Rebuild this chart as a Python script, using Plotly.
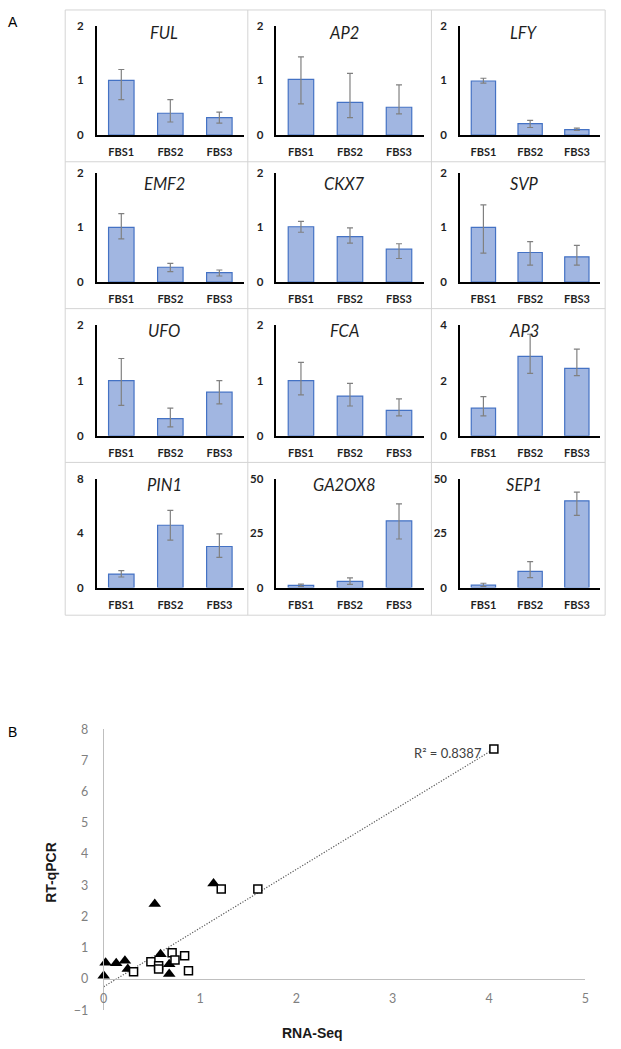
import plotly.graph_objects as go

W, H = 621, 1049

# ---------------- data: panel A ----------------
gene_names = ["FUL", "AP2", "LFY", "EMF2", "CKX7", "SVP",
              "UFO", "FCA", "AP3", "PIN1", "GA2OX8", "SEP1"]
samples = ["FBS1", "FBS2", "FBS3"]

bar_means = [
    [1.00, 0.40, 0.32],
    [1.02, 0.60, 0.51],
    [0.99, 0.21, 0.10],
    [1.00, 0.27, 0.17],
    [1.01, 0.83, 0.60],
    [1.00, 0.54, 0.46],
    [1.00, 0.31, 0.79],
    [1.00, 0.72, 0.46],
    [1.00, 2.88, 2.44],
    [1.00, 4.60, 3.03],
    [1.00, 2.90, 30.8],
    [1.10, 7.50, 40.0],
]
whisker_high = [
    [1.20, 0.65, 0.42],
    [1.43, 1.13, 0.92],
    [1.04, 0.27, 0.13],
    [1.25, 0.34, 0.22],
    [1.11, 0.99, 0.70],
    [1.41, 0.74, 0.67],
    [1.40, 0.50, 1.00],
    [1.33, 0.95, 0.67],
    [1.42, 3.68, 3.14],
    [1.25, 5.70, 3.97],
    [1.60, 4.50, 38.6],
    [2.00, 12.0, 44.0],
]
whisker_low = [
    [0.65, 0.24, 0.22],
    [0.57, 0.32, 0.39],
    [0.95, 0.14, 0.085],
    [0.79, 0.19, 0.11],
    [0.91, 0.71, 0.43],
    [0.53, 0.31, 0.31],
    [0.55, 0.16, 0.58],
    [0.74, 0.54, 0.36],
    [0.72, 2.26, 2.18],
    [0.78, 3.50, 2.23],
    [0.40, 1.50, 22.4],
    [0.40, 4.60, 33.3],
]
y_max = [2, 2, 2, 2, 2, 2, 2, 2, 4, 8, 50, 50]
y_dtick = [1, 1, 1, 1, 1, 1, 1, 1, 2, 4, 25, 25]

# ---------------- data: panel B ----------------
tri_x = [0.00, 0.02, 0.13, 0.22, 0.25, 0.53, 0.59, 0.68, 0.68, 1.14]
tri_y = [0.10, 0.52, 0.50, 0.58, 0.32, 2.40, 0.79, 0.47, 0.16, 3.06]
sq_x = [0.31, 0.49, 0.57, 0.57, 0.71, 0.74, 0.84, 0.88, 1.22, 1.60, 4.05]
sq_y = [0.23, 0.55, 0.42, 0.32, 0.84, 0.61, 0.74, 0.26, 2.88, 2.88, 7.37]
trend_slope = 1.88
trend_intercept = -0.25
r_squared_label = "R² = 0.8387"
x_title = "RNA-Seq"
y_title = "RT-qPCR"


def fx(p):
    return p / W


def fy(p):
    return 1 - p / H


BAR_FILL = "#a1b6e1"
BAR_EDGE = "#4472c4"
ERR_COL = "#808080"
TXT = "#1f1f1f"

row_tops = [2, 156, 305, 461]
grid_bottom = 616
col_lefts = [62, 247, 433]
grid_right = 609
axis_left = [94, 276, 462]
axis_right = [243, 425, 604]
top_off = [16, 11, 17, 17]
bot_off = [127, 122, 129, 127]

fig = go.Figure()
layout = {}
annotations = []
shapes = []

for i, g in enumerate(gene_names):
    r, c = divmod(i, 3)
    n = i + 1
    xa, ya = f"x{n}", f"y{n}"
    m = bar_means[i]
    hi = [h - v for h, v in zip(whisker_high[i], m)]
    lo = [v - l for l, v in zip(whisker_low[i], m)]
    fig.add_trace(go.Bar(
        x=samples, y=m, xaxis=xa, yaxis=ya, width=0.52,
        marker=dict(color=BAR_FILL, line=dict(color=BAR_EDGE, width=1.2)),
        error_y=dict(type="data", symmetric=False, array=hi, arrayminus=lo,
                     color=ERR_COL, thickness=1.2, width=3),
        showlegend=False, hoverinfo="skip"))
    layout[f"xaxis{n}"] = dict(
        domain=[fx(axis_left[c]), fx(axis_right[c])], anchor=ya,
        range=[-0.5, 2.5], showline=True, linecolor="black", linewidth=1.5,
        ticks="", showgrid=False, zeroline=False, ticklabelstandoff=6,
        tickfont=dict(family="Lato", size=11, color=TXT, weight="bold"))
    layout[f"yaxis{n}"] = dict(
        domain=[fy(row_tops[r] + bot_off[r]), fy(row_tops[r] + top_off[r])],
        anchor=xa, range=[0, y_max[i]], dtick=y_dtick[i], showline=True,
        linecolor="black", linewidth=1.5, ticks="", showgrid=False,
        zeroline=False, ticklabelstandoff=9,
        tickfont=dict(family="Lato", size=11.5, color=TXT, weight="bold"))
    annotations.append(dict(
        text=f"<i>{g}</i>", xref="paper", yref="paper",
        x=fx((axis_left[c] + axis_right[c]) / 2 - 6), y=fy(row_tops[r] + 23),
        xanchor="center", yanchor="middle", showarrow=False,
        font=dict(family="Lato", size=16.5, color=TXT)))

# grid borders
xs = col_lefts + [grid_right]
ys = row_tops + [grid_bottom]
for xv in xs:
    shapes.append(dict(type="line", xref="paper", yref="paper",
                       x0=fx(xv), x1=fx(xv), y0=fy(ys[0]), y1=fy(ys[-1]),
                       line=dict(color="#d4d4d4", width=1)))
for yv in ys:
    shapes.append(dict(type="line", xref="paper", yref="paper",
                       x0=fx(xs[0]), x1=fx(xs[-1]), y0=fy(yv), y1=fy(yv),
                       line=dict(color="#d4d4d4", width=1)))

# ---------------- panel B scatter ----------------
sx0, sx1 = 101, 589
sy_top, sy_bot = 731.7, 1016.7
y_lo, y_hi = -1, 8
ydom = [fy(sy_bot), fy(sy_top)]
x_axis_pos = ydom[0] + (ydom[1] - ydom[0]) * (0 - y_lo) / (y_hi - y_lo)

trend_x = [0, max(sq_x)]
trend_y = [trend_slope * v + trend_intercept for v in trend_x]

fig.add_trace(go.Scatter(
    x=trend_x, y=trend_y, mode="lines", xaxis="x13", yaxis="y13",
    line=dict(color="#595959", width=1.2, dash="1.2px,1.6px"),
    showlegend=False, hoverinfo="skip", cliponaxis=False))
fig.add_trace(go.Scatter(
    x=tri_x, y=tri_y, mode="markers", xaxis="x13", yaxis="y13",
    marker=dict(symbol="triangle-up", size=11, color="black"),
    showlegend=False, cliponaxis=False))
fig.add_trace(go.Scatter(
    x=sq_x, y=sq_y, mode="markers", xaxis="x13", yaxis="y13",
    marker=dict(symbol="square", size=8, color="white",
                line=dict(color="black", width=1.5)),
    showlegend=False, cliponaxis=False))

layout["xaxis13"] = dict(
    domain=[fx(sx0), fx(sx1)], anchor="free", position=x_axis_pos,
    range=[0, 5], dtick=1, showline=True, linecolor="#bfbfbf", linewidth=1,
    ticks="", showgrid=False, zeroline=False, ticklabelstandoff=8,
    tickfont=dict(family="Lato", size=12.5, color="#7f7f7f"))
layout["yaxis13"] = dict(
    domain=ydom, anchor="x13", range=[y_lo, y_hi], dtick=1, showline=True,
    linecolor="#bfbfbf", linewidth=1, ticks="", showgrid=False,
    zeroline=False, ticklabelstandoff=12,
    tickfont=dict(family="Lato", size=12.5, color="#7f7f7f"))

annotations.append(dict(
    text=r_squared_label, xref="x13", yref="y13", x=sq_x[-1], y=sq_y[-1],
    xanchor="right", yanchor="middle", xshift=-10, yshift=-4, showarrow=False,
    font=dict(family="Lato", size=13, color="#404040")))
annotations.append(dict(
    text=f"<b>{y_title}</b>", xref="paper", yref="paper",
    x=fx(47.5), y=fy(876.5), textangle=-90, xanchor="center",
    yanchor="middle", showarrow=False,
    font=dict(family="Liberation Sans", size=14, color="#1a1a1a")))
annotations.append(dict(
    text=f"<b>{x_title}</b>", xref="paper", yref="paper",
    x=fx(313), y=fy(1040), xanchor="center", yanchor="middle",
    showarrow=False,
    font=dict(family="Liberation Sans", size=14, color="#1a1a1a")))

# panel letters
annotations.append(dict(text="A", xref="paper", yref="paper", x=fx(2),
                        y=fy(14), xanchor="left", yanchor="middle",
                        showarrow=False,
                        font=dict(family="Liberation Sans", size=14,
                                  color="black")))
annotations.append(dict(text="B", xref="paper", yref="paper", x=fx(2),
                        y=fy(734), xanchor="left", yanchor="middle",
                        showarrow=False,
                        font=dict(family="Liberation Sans", size=14,
                                  color="black")))

fig.update_layout(
    width=W, height=H, margin=dict(l=0, r=0, t=0, b=0),
    paper_bgcolor="white", plot_bgcolor="rgba(0,0,0,0)",
    bargap=0.48, annotations=annotations, shapes=shapes, **layout)

fig.write_html(
    "out.html",
    config={"displayModeBar": False},
    post_script="document.body.style.margin='0';"
                "document.body.style.overflow='hidden';")
